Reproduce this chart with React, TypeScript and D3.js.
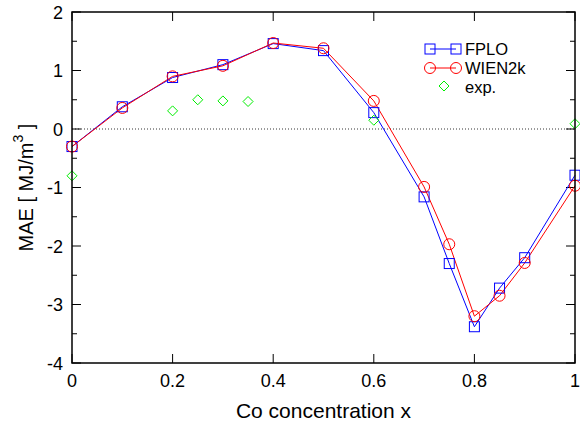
import React from "react";
import * as d3 from "d3";

const xs = [0, 0.1, 0.2, 0.3, 0.4, 0.5, 0.6, 0.7, 0.75, 0.8, 0.85, 0.9, 1.0];
const fplo = [-0.3, 0.38, 0.88, 1.1, 1.46, 1.34, 0.28, -1.16, -2.3, -3.38, -2.72, -2.2, -0.79];
const wien = [-0.3, 0.36, 0.9, 1.08, 1.47, 1.38, 0.48, -0.99, -1.97, -3.2, -2.85, -2.29, -0.97];
const expX = [0, 0.2, 0.25, 0.3, 0.35, 0.6, 1.0];
const expY = [-0.8, 0.31, 0.5, 0.48, 0.47, 0.15, 0.09];
const xTicks = [0, 0.2, 0.4, 0.6, 0.8, 1];
const yTicks = [-4, -3, -2, -1, 0, 1, 2];
const yMinor = [-3.5, -2.5, -1.5, -0.5, 0.5, 1.5];

const W = 580, H = 423;
const L = 72, R = 575, T = 12, B = 363;

export default function App() {
  const x = d3.scaleLinear().domain([0, 1]).range([L, R]);
  const y = d3.scaleLinear().domain([-4, 2]).range([B, T]);
  const line = d3.line<number>().x((_, i) => x(xs[i])).y((d) => y(d));
  const font = "Liberation Sans, Arial, sans-serif";
  const sq = (cx: number, cy: number, k: string) => (
    <rect key={k} x={cx - 5} y={cy - 5} width={10} height={10} fill="none" stroke="#0000ff" strokeWidth={1} />
  );
  const ci = (cx: number, cy: number, k: string) => (
    <circle key={k} cx={cx} cy={cy} r={5.5} fill="none" stroke="#ff0000" strokeWidth={1} />
  );
  const di = (cx: number, cy: number, k: string) => (
    <path key={k} d={`M${cx},${cy - 5}L${cx + 5},${cy}L${cx},${cy + 5}L${cx - 5},${cy}Z`} fill="none" stroke="#00ee00" strokeWidth={1} />
  );
  return (
    <svg width={W} height={H} style={{ position: "absolute", left: 0, top: 0, background: "#fff" }} fontFamily={font}>
      <line x1={L} x2={R} y1={y(0)} y2={y(0)} stroke="#000" strokeWidth={0.8} strokeDasharray="1,2" />
      {xTicks.map((t) => (
        <g key={"xt" + t}>
          <line x1={x(t)} x2={x(t)} y1={B} y2={B - 9} stroke="#000" />
          <line x1={x(t)} x2={x(t)} y1={T} y2={T + 9} stroke="#000" />
          <text x={x(t)} y={387} fontSize={18} textAnchor="middle">{t}</text>
        </g>
      ))}
      {yTicks.map((t) => (
        <g key={"yt" + t}>
          <line x1={L} x2={L + 9} y1={y(t)} y2={y(t)} stroke="#000" />
          <line x1={R} x2={R - 9} y1={y(t)} y2={y(t)} stroke="#000" />
          <text x={L - 9} y={y(t) + 6.5} fontSize={18} textAnchor="end">{t}</text>
        </g>
      ))}
      {yMinor.map((t) => (
        <g key={"ym" + t}>
          <line x1={L} x2={L + 5} y1={y(t)} y2={y(t)} stroke="#000" />
          <line x1={R} x2={R - 5} y1={y(t)} y2={y(t)} stroke="#000" />
        </g>
      ))}
      <path d={line(fplo) || ""} fill="none" stroke="#0000ff" strokeWidth={1} />
      <path d={line(wien) || ""} fill="none" stroke="#ff0000" strokeWidth={1} />
      {fplo.map((v, i) => sq(x(xs[i]), y(v), "f" + i))}
      {wien.map((v, i) => ci(x(xs[i]), y(v), "w" + i))}
      {expY.map((v, i) => di(x(expX[i]), y(v), "e" + i))}
      <rect x={L} y={T} width={R - L} height={B - T} fill="none" stroke="#000" strokeWidth={1.5} />
      <line x1={430} x2={456} y1={49} y2={49} stroke="#0000ff" />
      {sq(430, 49, "l1")}
      {sq(456, 49, "l2")}
      <text x={465} y={55} fontSize={16.5}>FPLO</text>
      <line x1={430} x2={456} y1={68} y2={68} stroke="#ff0000" />
      {ci(430, 68, "l3")}
      {ci(456, 68, "l4")}
      <text x={465} y={74} fontSize={16.5}>WIEN2k</text>
      {di(444, 86, "l5")}
      <text x={465} y={93} fontSize={16.5}>exp.</text>
      <text x={(L + R) / 2} y={418} fontSize={21} textAnchor="middle">Co concentration x</text>
      <text transform={`translate(33,${(T + B) / 2}) rotate(-90)`} fontSize={20} textAnchor="middle">
        MAE [ MJ/m<tspan dy={-10} fontSize={14}>3</tspan><tspan dy={10}> ]</tspan>
      </text>
    </svg>
  );
}
